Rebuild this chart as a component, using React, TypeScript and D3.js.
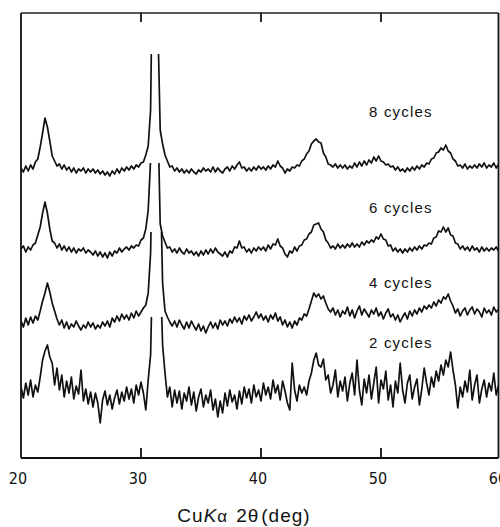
import React from "react";
import * as d3 from "d3";

// diffraction angle grid, 20 to 60 deg in 0.2 deg steps
const angles: number[] = d3.range(201).map((i) => +(20 + i * 0.2).toFixed(1));

// intensities relative to each trace's own baseline (arbitrary units)
const cycles2 = [
  8, -3, 12, 0, 15,
  -2, 10, 3, 18, 35,
  44, 50, 38, 32, 10,
  27, 5, 20, -2, 14,
  2, 18, -4, 9, 1,
  25, -6, 6, -9, 3,
  -12, 2, -8, -28, -5,
  4, -10, 0, -14, -3,
  5, -9, 3, -6, 8,
  -4, 6, -8, 10, 0,
  13, 2, -15, 15, 40,
  150, 250, 250, 130, 50,
  22, -2, 8, -12, 5,
  -8, 4, -14, 2, -6,
  8, -10, 3, -16, -2,
  6, -12, 0, -8, 5,
  -15, -4, -22, -6, -18,
  2, -11, 5, -7, 0,
  -14, 4, -9, 8, -3,
  6, -8, 10, -2, 5,
  -6, 12, 0, 8, -4,
  15, 2, 10, -5, 14,
  4, -8, -15, 32, 5,
  -6, 10, 2, 8, 0,
  14, 22, 35, 42, 30,
  28, 36, 15, 20, 2,
  10, 25, -2, 14, 4,
  18, -6, 12, 22, 0,
  35, 5, -10, 16, 2,
  20, -4, 12, 28, -8,
  15, 6, 24, -5, 10,
  -12, 14, 2, 32, 5,
  -8, 12, 20, -4, 8,
  16, -10, 6, 27, 12,
  0, 18, 8, 24, 14,
  30, 20, 35, 28, 43,
  25, 10, -13, 8, -2,
  14, 3, 25, -5, 10,
  20, -8, 6, 15, -2,
  12, 4, 22, 0, 10,
  8,
];

const cycles4 = [
  2, -4, 5, -2, 6,
  0, 7, 3, 12, 22,
  30, 40, 31, 20, 12,
  4, -2, 3, -5, 1,
  -6, -1, -4, 2, -3,
  -7, -2, -5, 1, -4,
  0, -6, -2, -5, 1,
  -3, 2, -4, 5, 1,
  7, 2, 9, 4, 8,
  3, 10, 5, 12, 7,
  11, 15, 18, 30, 70,
  200, 300, 300, 150, 40,
  12, 6, 1, -3, 2,
  -4, 3, -2, -6, 1,
  -5, 2, -3, -7, -1,
  -8, -3, -10, -4, 1,
  -5, 0, -6, 3, -2,
  2, -3, 4, 0, 6,
  1, 5, -1, 7, 3,
  8, 2, 6, 11, 5,
  9, 3, 7, 1, 8,
  4, 10, 2, 6, -2,
  3, -4, 1, -5, 2,
  -2, 5, 3, 9, 7,
  14, 22, 30, 26, 29,
  24, 27, 20, 14, 11,
  15, 8, 13, 6, 12,
  9, 16, 7, 13, 5,
  12, 17, 8, 14, 10,
  6, 13, 9, 15, 7,
  11, 4, 10, 14, 6,
  9, 3, 8, 1, 6,
  10, 4, 12, 7, 13,
  9, 15, 11, 17, 14,
  18, 15, 21, 17, 23,
  20, 26, 24, 29, 22,
  17, 10, 14, 7, 12,
  15, 8, 13, 16, 9,
  14, 11, 6, 15, 10,
  13, 8, 16, 11, 14,
  12,
];

const cycles6 = [
  1, 4, -2, 3, 0,
  5, 7, 15, 23, 37,
  48, 37, 21, 9, 7,
  2, 6, 0, 4, -1,
  3, -2, 2, -3, 1,
  -1, 2, -3, 0, -2,
  -5, -1, -6, -2, -7,
  -3, -8, -2, -6, -1,
  -3, 2, -2, 1, 3,
  0, 4, 2, 5, 4,
  10, 12, 21, 40, 90,
  300, 350, 140, 26, 14,
  8, 2, 3, -2, 1,
  -3, 2, -2, -4, 1,
  -3, -1, -5, -2, -6,
  -1, -5, 0, -4, 1,
  -3, 2, -2, -4, -6,
  -2, -7, -1, -3, 3,
  2, 9, 2, 3, -2,
  1, -3, 2, -1, 3,
  0, 3, -1, 5, 1,
  6, 5, 11, 4, 2,
  -4, -7, -1, -3, 3,
  -1, 4, 5, 10, 11,
  16, 18, 25, 26, 27,
  21, 18, 10, 7, 2,
  4, 1, 6, 2, 5,
  2, 6, 3, 7, 3,
  6, 3, 8, 5, 9,
  7, 10, 8, 13, 11,
  16, 11, 10, 4, 5,
  -1, 2, -2, 1, -3,
  1, -2, 2, -1, 3,
  0, 4, 1, 5, 4,
  7, 6, 12, 13, 19,
  18, 23, 18, 22, 15,
  14, 7, 6, 1, 4,
  0, 3, -1, 4, 0,
  2, -2, 3, -1, 2,
  -1, 2, 0, 3, -1,
  1,
];

const cycles8 = [
  2, -2, 4, -1, 5,
  1, 8, 11, 23, 37,
  52, 43, 29, 14, 9,
  4, 6, 1, 5, 0,
  3, -2, 2, -3, 1,
  -1, 2, -3, 1, -2,
  1, -3, 0, -4, -1,
  -5, -2, -6, -1, -4,
  1, -3, 2, -1, 3,
  0, 4, 1, 5, 3,
  7, 8, 15, 24, 60,
  250, 350, 150, 40, 26,
  15, 9, 3, 4, -1,
  2, -2, 1, -3, 0,
  -3, 1, -2, -4, 0,
  -2, 2, -1, 1, -2,
  3, -2, 2, -1, -3,
  1, 3, -1, 4, 1,
  5, 8, 2, 3, -1,
  2, -1, 3, 0, 4,
  1, 3, 0, 4, 1,
  5, 3, 9, 4, 2,
  -3, 1, -1, 3, 2,
  5, 4, 9, 11, 16,
  19, 26, 29, 31, 28,
  27, 17, 13, 6, 5,
  3, 6, 2, 5, 2,
  5, 1, 4, 2, 7,
  3, 8, 4, 9, 5,
  10, 7, 13, 9, 14,
  9, 8, 5, 6, 3,
  4, 0, 3, -1, 1,
  -2, 2, -1, 3, 0,
  4, 1, 5, 3, 7,
  6, 11, 12, 17, 18,
  22, 20, 25, 19, 17,
  11, 9, 4, 5, 2,
  6, 1, 4, 2, 5,
  2, 6, 3, 7, 2,
  5, 3, 7, 2, 6,
  4,
];

const seriesNames = ["2 cycles", "4 cycles", "6 cycles", "8 cycles"];
const seriesValues = [cycles2, cycles4, cycles6, cycles8];
// vertical stacking offsets of each trace and the level where its peaks go off scale
const seriesOffsets = [63, 135, 208, 288];
const seriesCaps = [78, 91, 87, 116];
const labelLevels = [47, 35, 37, 53];

const xTicks = [20, 30, 40, 50, 60];
const innerTicks = [30, 40, 50];

export default function App() {
  const W = 500;
  const H = 527;
  const left = 21;
  const right = 498.5;
  const top = 13;
  const bottom = 458;

  const x = d3.scaleLinear().domain([20, 60]).range([21, 501]);
  const y = d3.scaleLinear().domain([0, 445]).range([bottom, top]);

  const narrow = "'Liberation Sans Narrow', 'DejaVu Sans Condensed', 'Liberation Sans', sans-serif";
  const sans = "'Liberation Sans', Arial, sans-serif";

  return (
    <svg
      width={W}
      height={H}
      viewBox={`0 0 ${W} ${H}`}
      style={{ position: "absolute", left: 0, top: 0, background: "#fff" }}
    >
      <defs>
        {seriesValues.map((_, k) => (
          <clipPath id={`clip-${k}`} key={k}>
            <rect
              x={left}
              y={y(seriesOffsets[k] + seriesCaps[k])}
              width={right - left}
              height={bottom - y(seriesOffsets[k] + seriesCaps[k])}
            />
          </clipPath>
        ))}
      </defs>

      {seriesValues.map((vals, k) => {
        const line = d3
          .line<number>()
          .x((_, i) => x(angles[i]))
          .y((v) => y(seriesOffsets[k] + v))
          .curve(d3.curveLinear);
        return (
          <path
            key={k}
            d={line(vals) || ""}
            fill="none"
            stroke="#111"
            strokeWidth={1.7}
            strokeLinejoin="round"
            clipPath={`url(#clip-${k})`}
          />
        );
      })}

      {seriesNames.map((name, k) => (
        <text
          key={name}
          x={x(49.0)}
          y={y(seriesOffsets[k] + labelLevels[k])}
          fontFamily={sans}
          fontSize={15}
          letterSpacing={1.2}
          fill="#111"
        >
          {name}
        </text>
      ))}

      {/* frame */}
      <line x1={left} x2={right} y1={top} y2={top} stroke="#222" strokeWidth={1.4} />
      <line x1={left} x2={left} y1={top} y2={bottom} stroke="#111" strokeWidth={1.8} />
      <line x1={right} x2={right} y1={top} y2={bottom} stroke="#111" strokeWidth={1.8} />
      <line x1={left} x2={right} y1={bottom} y2={bottom} stroke="#111" strokeWidth={2.2} />

      {innerTicks.map((t) => (
        <g key={t}>
          <line x1={x(t)} x2={x(t)} y1={bottom} y2={bottom - 10} stroke="#111" strokeWidth={1.8} />
          <line x1={x(t)} x2={x(t)} y1={top} y2={top + 9} stroke="#111" strokeWidth={1.8} />
        </g>
      ))}

      {xTicks.map((t) => (
        <text
          key={t}
          x={x(t) - 3}
          y={484}
          textAnchor="middle"
          fontFamily={narrow}
          fontSize={16}
          fill="#111"
        >
          {t}
        </text>
      ))}

      <text
        x={244}
        y={522}
        textAnchor="middle"
        fontFamily={sans}
        fontSize={19}
        letterSpacing={1}
        fill="#111"
      >
        Cu<tspan fontStyle="italic">K</tspan>
        <tspan fontSize={17}>α</tspan>
        <tspan dx={8}>2θ</tspan>
        <tspan dx={2}>(deg)</tspan>
      </text>
    </svg>
  );
}
